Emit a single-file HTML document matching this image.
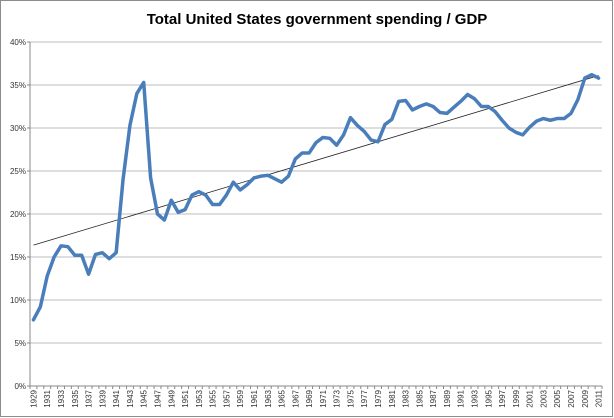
<!DOCTYPE html>
<html><head><meta charset="utf-8"><style>
html,body{margin:0;padding:0;background:#fff}
svg{display:block;font-family:"Liberation Sans",sans-serif}
</style></head><body>
<svg width="614" height="418" viewBox="0 0 614 418">
<rect x="0.5" y="0.5" width="612" height="416" fill="#fff" stroke="#8c8c8c"/>
<text x="317" y="24" text-anchor="middle" font-size="15" font-weight="bold" fill="#000">Total United States government spending / GDP</text>
<g id="grid"></g><g id="axes"></g><g id="series"></g>
</svg>
<script>
const startYear = 1929;
const values = [7.7,9.2,12.8,15.0,16.3,16.2,15.2,15.2,13.0,15.3,15.5,14.8,15.5,24.0,30.3,34.0,35.3,24.2,20.0,19.3,21.6,20.2,20.5,22.2,22.6,22.2,21.1,21.1,22.2,23.7,22.8,23.4,24.2,24.4,24.5,24.1,23.7,24.4,26.4,27.1,27.1,28.3,28.9,28.8,28.0,29.2,31.2,30.3,29.6,28.6,28.4,30.4,31.0,33.1,33.2,32.1,32.5,32.8,32.5,31.8,31.7,32.4,33.1,33.9,33.4,32.5,32.5,31.9,30.9,30.0,29.5,29.2,30.1,30.8,31.1,30.9,31.1,31.1,31.7,33.3,35.8,36.2,35.8];
const yTicks = [0,5,10,15,20,25,30,35,40];
const NS='http://www.w3.org/2000/svg';
const L=30,R=602,T=42,B=386,N=values.length,step=(R-L)/N;
const x=i=>L+step*(i+0.5);
const y=v=>B-(v/40)*(B-T);
function mk(t,a,p){const e=document.createElementNS(NS,t);for(const k in a)e.setAttribute(k,a[k]);p.appendChild(e);return e;}
const grid=document.getElementById('grid'),axes=document.getElementById('axes'),ser=document.getElementById('series');
yTicks.forEach(v=>{
 if(v>0){const g=mk('line',{x1:L,x2:R,y1:y(v),y2:y(v),stroke:'#bdbdbd','stroke-width':1},grid);
 
 }
 const t=mk('text',{x:L-4,y:y(v)+3,'text-anchor':'end','font-size':8,fill:'#333'},axes);
 t.textContent=v+'%';
 
 
 mk('line',{x1:L-3,x2:L,y1:y(v),y2:y(v),stroke:'#888'},axes);
});
const ya=mk('line',{x1:L,x2:L,y1:T,y2:B,stroke:'#888'},axes);


const xa=mk('line',{x1:L,x2:R,y1:B,y2:B,stroke:'#888'},axes);


for(let i=0;i<=N;i++){mk('line',{x1:L+step*i,x2:L+step*i,y1:B,y2:B+3,stroke:'#888'},axes);}
values.forEach((v,i)=>{if(i%2===0){
 const xx=x(i)+3;
 const t=mk('text',{x:0,y:0,transform:`translate(${xx},${B+4}) rotate(-90)`,'text-anchor':'end','font-size':8,fill:'#333'},axes);
 t.textContent=String(startYear+i);
 
 
}});
let sx=0,sy=0,sxx=0,sxy=0;values.forEach((v,i)=>{sx+=i;sy+=v;sxx+=i*i;sxy+=i*v;});
const m=(N*sxy-sx*sy)/(N*sxx-sx*sx),b=(sy-m*sx)/N;
const tr=mk('line',{x1:x(0),y1:y(b),x2:x(N-1),y2:y(b+m*(N-1)),stroke:'#222','stroke-width':0.8},ser);


const p=mk('polyline',{points:values.map((v,i)=>x(i)+','+y(v)).join(' '),fill:'none',stroke:'#4a7ebb','stroke-width':3.5,'stroke-linejoin':'round','stroke-linecap':'round'},ser);


</script>
</body></html>
